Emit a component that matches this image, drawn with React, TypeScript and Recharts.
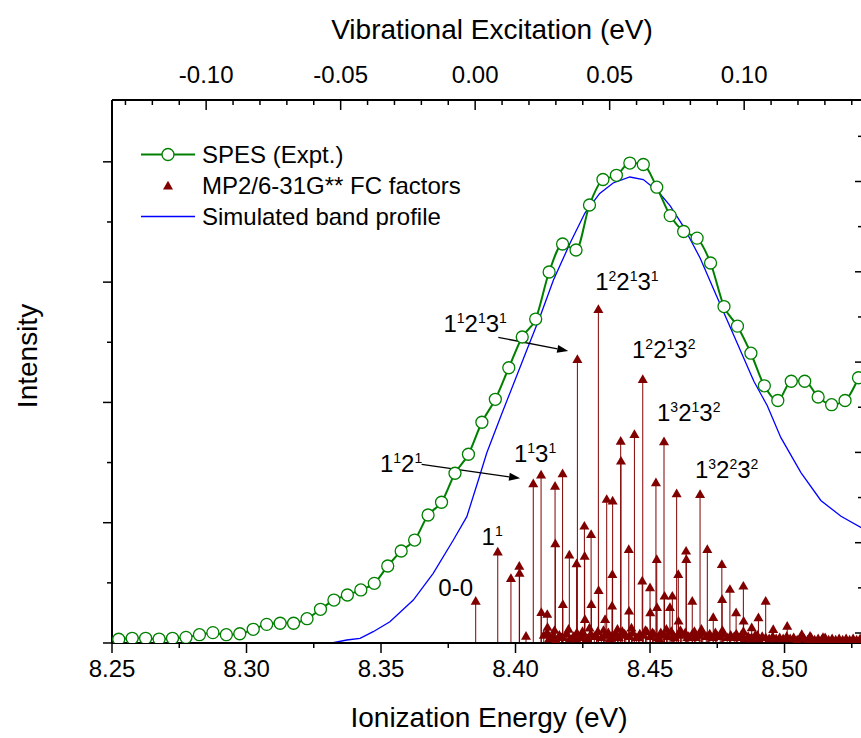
import React from 'react';
import {
  ComposedChart,
  Line,
  Scatter,
  XAxis,
  YAxis,
  ReferenceLine,
  ReferenceDot,
  Legend,
} from 'recharts';

const FONT = 'Arial, "Liberation Sans", Helvetica, sans-serif';
const GREEN = '#008000';
const BLUE = '#0000ff';
const RED = '#800000';

// Zero of the vibrational-excitation scale (the 0-0 band), eV
const ORIGIN_IE = 8.385;
const X_MIN = 8.25;
const X_MAX = 8.5288;
const Y_LEFT = [0, 4.514];
const Y_RIGHT = [-0.1107, 5.9025];

const BOTTOM_TICKS = [8.25, 8.275, 8.3, 8.325, 8.35, 8.375, 8.4, 8.425, 8.45, 8.475, 8.5, 8.525];
const BOTTOM_LABELS = ['8.25', '8.30', '8.35', '8.40', '8.45', '8.50'];
const TOP_TICKS = [
  -0.13, -0.12, -0.11, -0.1, -0.09, -0.08, -0.07, -0.06, -0.05, -0.04, -0.03, -0.02, -0.01, 0,
  0.01, 0.02, 0.03, 0.04, 0.05, 0.06, 0.07, 0.08, 0.09, 0.1, 0.11, 0.12, 0.13, 0.14,
];
const TOP_LABELS = ['-0.10', '-0.05', '0.00', '0.05', '0.10'];
const LEFT_TICKS = [0, 0.5, 1, 1.5, 2, 2.5, 3, 3.5, 4];
const RIGHT_TICKS = [0, 0.5, 1, 1.5, 2, 2.5, 3, 3.5, 4, 4.5, 5, 5.5];

// SPES (experiment)
const SPES_E = [
  8.2525, 8.2575, 8.2625, 8.2675, 8.2725, 8.2775, 8.2825, 8.2875, 8.2925, 8.2975,
  8.3025, 8.3075, 8.3125, 8.3175, 8.3225, 8.3275, 8.3325, 8.3375, 8.3425, 8.3475,
  8.3525, 8.3575, 8.3625, 8.3675, 8.3725, 8.3775, 8.3825, 8.3875, 8.3925, 8.3975,
  8.4025, 8.4075, 8.4125, 8.4175, 8.4225, 8.4275, 8.4325, 8.4375, 8.4425, 8.4475,
  8.4525, 8.4575, 8.4625, 8.4675, 8.4725, 8.4775, 8.4825, 8.4875, 8.4925, 8.4975,
  8.5025, 8.5075, 8.5125, 8.5175, 8.5225, 8.5275,
];
const SPES_I = [
  0.031, 0.039, 0.039, 0.033, 0.039, 0.047, 0.069, 0.086, 0.069, 0.077,
  0.114, 0.155, 0.164, 0.164, 0.202, 0.28, 0.357, 0.399, 0.441, 0.496,
  0.64, 0.765, 0.856, 1.064, 1.17, 1.411, 1.569, 1.835, 2.026, 2.288,
  2.544, 2.693, 3.084, 3.317, 3.267, 3.641, 3.853, 3.888, 3.99, 3.978,
  3.789, 3.553, 3.421, 3.366, 3.159, 2.797, 2.634, 2.409, 2.138, 2.016,
  2.176, 2.176, 2.045, 1.981, 2.016, 2.205,
];

// Simulated band profile
const SIM_E = [
  8.3261, 8.3322, 8.3373, 8.3422, 8.3471, 8.3533, 8.362, 8.3694, 8.3769, 8.3819,
  8.3862, 8.3893, 8.3945, 8.4042, 8.4091, 8.4141, 8.4203, 8.4258, 8.4313, 8.4363,
  8.4425, 8.4475, 8.4531, 8.4575, 8.4625, 8.4687, 8.4749, 8.4812, 8.4886, 8.4936,
  8.4986, 8.5061, 8.5135, 8.521, 8.5288,
];
const SIM_I = [
  0, 0.0025, 0.025, 0.039, 0.094, 0.177, 0.357, 0.579, 0.856, 1.05,
  1.355, 1.579, 1.883, 2.436, 2.712, 3.017, 3.325, 3.574, 3.737, 3.824,
  3.874, 3.853, 3.751, 3.634, 3.46, 3.197, 2.876, 2.555, 2.176, 1.972,
  1.709, 1.417, 1.185, 1.053, 0.956,
];

// MP2/6-31G** Franck-Condon factors (sticks)
const FC_E = [
  8.3852, 8.3934, 8.3983, 8.4014, 8.4015, 8.4039, 8.4066, 8.4095, 8.4096, 8.4118,
  8.4119, 8.4147, 8.4148, 8.4175, 8.4176, 8.42, 8.4227, 8.423, 8.4256, 8.4257,
  8.4258, 8.4281, 8.4282, 8.4308, 8.4309, 8.4333, 8.4339, 8.4361, 8.436, 8.4359,
  8.4391, 8.4392, 8.4421, 8.4422, 8.4442, 8.4473, 8.4471, 8.45, 8.4501, 8.4522,
  8.4525, 8.4526, 8.4552, 8.4554, 8.4583, 8.4574, 8.4599, 8.4605, 8.4606, 8.4634,
  8.4635, 8.4657, 8.4686, 8.4713, 8.4735, 8.4767, 8.4768, 8.4797, 8.482, 8.4847,
  8.4848, 8.4878, 8.4903, 8.493, 8.4958, 8.501, 8.5064, 8.5095, 8.5143,
];
const FC_I = [
  0.343, 0.751, 0.532, 0.634, 0.574, 0.052, 1.319, 1.391, 0.249, 0.233,
  0.125, 1.299, 0.82, 1.402, 0.316, 0.726, 0.654, 2.352, 0.967, 0.717,
  0.191, 0.898, 0.316, 2.768, 0.432, 0.191, 1.189, 1.175, 0.565, 0.302,
  1.673, 1.507, 0.773, 0.26, 1.729, 2.186, 0.51, 0.455, 0.247, 1.328,
  0.69, 0.291, 1.668, 0.385, 0.385, 0.291, 1.236, 0.565, 0.177, 0.759,
  0.69, 0.343, 1.23, 0.773, 0.208, 0.648, 0.357, 0.441, 0.247, 0.468,
  0.177, 0.122, 0.205, 0.343, 0.108, 0.135, 0.066, 0.052, 0.042,
];
// weak FC factors forming the dense band near the baseline
const FC_WEAK_E = [
  8.4105, 8.4118, 8.4125, 8.4138, 8.415, 8.4163, 8.4176, 8.4189, 8.4202, 8.4215, 8.4228, 8.4241,
  8.4254, 8.4267, 8.428, 8.4293, 8.4306, 8.4319, 8.4332, 8.4345, 8.4358, 8.4371,
  8.4384, 8.4397, 8.441, 8.4423, 8.4436, 8.4449, 8.4462, 8.4475, 8.4488, 8.4501,
  8.4514, 8.4527, 8.454, 8.4553, 8.4566, 8.4579, 8.4592, 8.4605, 8.4618, 8.4631,
  8.4644, 8.4657, 8.467, 8.4683, 8.4696, 8.4709, 8.4722, 8.4735, 8.4748, 8.4761,
  8.4774, 8.4787, 8.48, 8.4813, 8.4826, 8.4839, 8.4852, 8.4865, 8.4878, 8.4891,
  8.4904, 8.4917, 8.493, 8.4943, 8.4956, 8.4969, 8.4982, 8.4995, 8.5008, 8.5021,
  8.5034, 8.5047, 8.506, 8.5073, 8.5086, 8.5099, 8.5112, 8.5125, 8.5138, 8.5151,
  8.5164, 8.5177, 8.519, 8.5203, 8.5216, 8.5229, 8.5242, 8.5255, 8.5268, 8.5281,
];
const FC_WEAK_I = [
  0.06, 0.08, 0.03, 0.05, 0.02, 0.06, 0.04, 0.07, 0.03, 0.05, 0.08, 0.04,
  0.06, 0.03, 0.07, 0.05, 0.09, 0.04, 0.06, 0.08, 0.05, 0.07,
  0.04, 0.09, 0.06, 0.05, 0.08, 0.04, 0.07, 0.06, 0.09, 0.05,
  0.07, 0.04, 0.08, 0.06, 0.05, 0.09, 0.04, 0.07, 0.06, 0.08,
  0.05, 0.07, 0.04, 0.06, 0.08, 0.05, 0.07, 0.04, 0.06, 0.05,
  0.07, 0.04, 0.06, 0.05, 0.04, 0.06, 0.03, 0.05, 0.04, 0.06,
  0.03, 0.05, 0.04, 0.03, 0.05, 0.03, 0.04, 0.03, 0.05, 0.03,
  0.04, 0.02, 0.04, 0.03, 0.02, 0.04, 0.02, 0.03, 0.02, 0.04,
  0.02, 0.03, 0.02, 0.03, 0.02, 0.03, 0.02, 0.03, 0.02, 0.03,
];
// secondary layer of weak factors in the densest region
const FC_WEAK2_E = [
  8.4145, 8.4171, 8.4197, 8.4223, 8.4249, 8.4275, 8.4301, 8.4327, 8.4353, 8.4379,
  8.4405, 8.4431, 8.4457, 8.4483, 8.4509, 8.4535, 8.4561, 8.4587, 8.4613, 8.4639,
  8.4665, 8.4691, 8.4717, 8.4743, 8.4769, 8.4795, 8.4821, 8.4847, 8.4873, 8.4899,
];
const FC_WEAK2_I = [
  0.1, 0.04, 0.11, 0.03, 0.09, 0.12, 0.05, 0.1, 0.03, 0.11,
  0.07, 0.12, 0.04, 0.1, 0.08, 0.03, 0.11, 0.06, 0.1, 0.04,
  0.09, 0.11, 0.05, 0.08, 0.1, 0.04, 0.07, 0.09, 0.03, 0.06,
];

// Band assignments
const NOTE_TEXT = ['0-0', '1^1', '1^1 2^1', '1^1 3^1', '1^1 2^1 3^1', '1^2 2^1 3^1', '1^2 2^1 3^2', '1^3 2^1 3^2', '1^3 2^2 3^2'];
const NOTE_E = [8.3713, 8.3874, 8.3496, 8.3994, 8.3732, 8.4296, 8.4433, 8.4526, 8.4667];
const NOTE_I = [0.393, 0.815, 1.424, 1.507, 2.588, 2.934, 2.369, 1.845, 1.374];

// Arrows (tail -> head)
const ARROW_FROM_E = [8.3936, 8.3651];
const ARROW_FROM_I = [2.541, 1.485];
const ARROW_TO_E = [8.4196, 8.4017];
const ARROW_TO_I = [2.427, 1.369];

const LEGEND_LABELS = ['SPES (Expt.)', 'MP2/6-31G** FC factors', 'Simulated band profile'];

const spesData = SPES_E.map((e, k) => ({ e, i: SPES_I[k] }));
const simData = SIM_E.map((e, k) => ({ e, i: SIM_I[k] }));
const fcData = FC_WEAK_E.map((e, k) => ({ e, i: FC_WEAK_I[k] }))
  .concat(FC_WEAK2_E.map((e, k) => ({ e, i: FC_WEAK2_I[k] })))
  .concat(FC_E.map((e, k) => ({ e, i: FC_I[k] })));
// binds the top axis to the same energy range
const topRange = [
  { v: X_MIN - ORIGIN_IE, i: 0 },
  { v: X_MAX - ORIGIN_IE, i: 0 },
];

const triPath = (cx: number, cy: number) => {
  const h = 2.9;
  return `M${cx},${cy - 2 * h} L${cx + 1.732 * h},${cy + h} L${cx - 1.732 * h},${cy + h} Z`;
};

const BottomTick = (props: any) => {
  const { x, y, payload } = props;
  const label = Number(payload.value).toFixed(2);
  const major = BOTTOM_LABELS.includes(label);
  return (
    <g>
      <line x1={x} y1={y} x2={x} y2={y + (major ? 10 : 5)} stroke="#000" strokeWidth={1.5} />
      {major && (
        <text x={x} y={y + 34} textAnchor="middle" fontSize={24} fontFamily={FONT} fill="#000">
          {label}
        </text>
      )}
    </g>
  );
};

const TopTick = (props: any) => {
  const { x, y, payload } = props;
  const v = Number(payload.value);
  const label = (Math.abs(v) < 1e-9 ? 0 : v).toFixed(2);
  const major = TOP_LABELS.includes(label);
  return (
    <g>
      <line x1={x} y1={y} x2={x} y2={y + (major ? 10 : 5)} stroke="#000" strokeWidth={1.5} />
      {major && (
        <text x={x} y={y - 17} textAnchor="middle" fontSize={24} fontFamily={FONT} fill="#000">
          {label}
        </text>
      )}
    </g>
  );
};

const LeftTick = (props: any) => {
  const { x, y, payload } = props;
  const major = Number.isInteger(Number(payload.value));
  return <line x1={x} y1={y} x2={x - (major ? 9 : 5)} y2={y} stroke="#000" strokeWidth={1.5} />;
};

const RightTick = (props: any) => {
  const { x, y, payload } = props;
  const major = Number.isInteger(Number(payload.value));
  return <line x1={x} y1={y} x2={x - (major ? 7 : 4)} y2={y} stroke="#000" strokeWidth={1.5} />;
};

const Notation = ({ cx, cy, text }: { cx: number; cy: number; text: string }) => {
  const parts = text.split(' ');
  const spans: React.ReactNode[] = [];
  let raised = false;
  parts.forEach((p, k) => {
    const [base, sup] = p.split('^');
    spans.push(
      <tspan key={k + 'b'} fontSize={24} dy={raised ? 9 : 0}>
        {base}
      </tspan>
    );
    raised = false;
    if (sup) {
      spans.push(
        <tspan key={k + 's'} fontSize={14} dy={-9}>
          {sup}
        </tspan>
      );
      raised = true;
    }
  });
  return (
    <text x={cx} y={cy} fontFamily={FONT} fill="#000">
      {spans}
    </text>
  );
};

const Arrow = (props: any) => {
  const { x1, y1, x2, y2 } = props;
  const dx = x2 - x1;
  const dy = y2 - y1;
  const len = Math.sqrt(dx * dx + dy * dy) || 1;
  const ux = dx / len;
  const uy = dy / len;
  const hl = 11;
  const hw = 4;
  const bx = x2 - ux * hl;
  const by = y2 - uy * hl;
  return (
    <g>
      <line x1={x1} y1={y1} x2={bx} y2={by} stroke="#000" strokeWidth={1.3} />
      <path
        d={`M${x2},${y2} L${bx - uy * hw},${by + ux * hw} L${bx + uy * hw},${by - ux * hw} Z`}
        fill="#000"
      />
    </g>
  );
};

const LegendContent = () => (
  <div style={{ fontFamily: FONT, fontSize: 24, color: '#000' }}>
    {LEGEND_LABELS.map((lab, k) => (
      <div key={lab} style={{ display: 'flex', alignItems: 'center', height: 31, whiteSpace: 'nowrap' }}>
        <svg width={66} height={31} style={{ display: 'block' }}>
          {k === 0 && (
            <g>
              <line x1={5} y1={15.5} x2={59} y2={15.5} stroke={GREEN} strokeWidth={2} />
              <circle cx={32} cy={15.5} r={6} fill="#fff" stroke={GREEN} strokeWidth={1.3} />
            </g>
          )}
          {k === 1 && <path d={triPath(32, 16.5)} fill={RED} />}
          {k === 2 && <line x1={5} y1={15.5} x2={59} y2={15.5} stroke={BLUE} strokeWidth={1.3} />}
        </svg>
        <span style={{ lineHeight: '31px' }}>{lab}</span>
      </div>
    ))}
  </div>
);

export default function App() {
  return (
    <div
      style={{
        position: 'absolute',
        left: 0,
        top: 0,
        width: 861,
        height: 738,
        overflow: 'hidden',
        background: '#fff',
      }}
    >
      <ComposedChart width={870} height={738} margin={{ top: 0, right: 0, bottom: 0, left: 0 }}>
        <XAxis
          xAxisId="bottom"
          dataKey="e"
          type="number"
          orientation="bottom"
          domain={[X_MIN, X_MAX]}
          allowDataOverflow
          ticks={BOTTOM_TICKS}
          interval={0}
          tickSize={0}
          tickMargin={0}
          tickLine={false}
          tick={(p: any) => <BottomTick {...p} />}
          axisLine={{ stroke: '#000', strokeWidth: 2 }}
          height={95}
        />
        <XAxis
          xAxisId="top"
          dataKey="v"
          type="number"
          orientation="top"
          domain={[X_MIN - ORIGIN_IE, X_MAX - ORIGIN_IE]}
          allowDataOverflow
          ticks={TOP_TICKS}
          interval={0}
          tickSize={0}
          tickMargin={0}
          tickLine={false}
          tick={(p: any) => <TopTick {...p} />}
          axisLine={{ stroke: '#000', strokeWidth: 2 }}
          height={100}
        />
        <YAxis
          yAxisId="left"
          type="number"
          domain={Y_LEFT}
          allowDataOverflow
          ticks={LEFT_TICKS}
          interval={0}
          tickSize={0}
          tickMargin={0}
          tickLine={false}
          tick={(p: any) => <LeftTick {...p} />}
          axisLine={{ stroke: '#000', strokeWidth: 2 }}
          width={112}
          label={{
            content: () => (
              <text
                x={27}
                y={356}
                transform="rotate(-90, 27, 356)"
                textAnchor="middle"
                dominantBaseline="central"
                fontSize={28}
                fontFamily={FONT}
                fill="#000"
              >
                Intensity
              </text>
            ),
          }}
        />
        <YAxis
          yAxisId="right"
          orientation="right"
          type="number"
          domain={Y_RIGHT}
          allowDataOverflow
          ticks={RIGHT_TICKS}
          interval={0}
          tickSize={0}
          tickMargin={0}
          tickLine={false}
          tick={(p: any) => <RightTick {...p} />}
          axisLine={{ stroke: '#000', strokeWidth: 2 }}
          width={8}
        />

        <Line
          data={topRange}
          xAxisId="top"
          yAxisId="left"
          dataKey="i"
          stroke="none"
          dot={false}
          legendType="none"
          isAnimationActive={false}
        />

        {fcData.map((d, k) => (
          <ReferenceLine
            key={'fc' + k}
            xAxisId="bottom"
            yAxisId="left"
            segment={[
              { x: d.e, y: 0 },
              { x: d.e, y: d.i },
            ]}
            stroke={RED}
            strokeWidth={1}
            ifOverflow="visible"
          />
        ))}

        <Scatter
          name="MP2/6-31G** FC factors"
          data={fcData}
          xAxisId="bottom"
          yAxisId="left"
          dataKey="i"
          isAnimationActive={false}
          shape={(p: any) => <path d={triPath(p.cx, p.cy)} fill={RED} />}
        />

        <Line
          name="Simulated band profile"
          data={simData}
          xAxisId="bottom"
          yAxisId="left"
          dataKey="i"
          type="linear"
          stroke={BLUE}
          strokeWidth={1.3}
          dot={false}
          isAnimationActive={false}
        />

        <Line
          name="SPES (Expt.)"
          data={spesData}
          xAxisId="bottom"
          yAxisId="left"
          dataKey="i"
          type="monotone"
          stroke={GREEN}
          strokeWidth={2}
          dot={(p: any) => (
            <circle key={'c' + p.index} cx={p.cx} cy={p.cy} r={6} fill="#fff" stroke={GREEN} strokeWidth={1.3} />
          )}
          isAnimationActive={false}
        />

        {ARROW_FROM_E.map((e, k) => (
          <ReferenceLine
            key={'ar' + k}
            xAxisId="bottom"
            yAxisId="left"
            segment={[
              { x: e, y: ARROW_FROM_I[k] },
              { x: ARROW_TO_E[k], y: ARROW_TO_I[k] },
            ]}
            ifOverflow="visible"
            shape={(p: any) => <Arrow {...p} />}
          />
        ))}

        {NOTE_TEXT.map((t, k) => (
          <ReferenceDot
            key={'nt' + k}
            xAxisId="bottom"
            yAxisId="left"
            x={NOTE_E[k]}
            y={NOTE_I[k]}
            r={0}
            ifOverflow="visible"
            shape={(p: any) => <Notation cx={p.cx} cy={p.cy} text={t} />}
          />
        ))}

        <Legend
          layout="vertical"
          align="center"
          verticalAlign="middle"
          content={() => <LegendContent />}
          wrapperStyle={{ left: 136, top: 139, width: 420, height: 95 }}
        />
      </ComposedChart>
      <div
        style={{
          position: 'absolute',
          left: 0,
          top: 12,
          width: 984,
          textAlign: 'center',
          fontFamily: FONT,
          fontSize: 28,
          lineHeight: '36px',
          color: '#000',
          pointerEvents: 'none',
        }}
      >
        Vibrational Excitation (eV)
      </div>
      <div
        style={{
          position: 'absolute',
          left: 0,
          top: 700,
          width: 978,
          textAlign: 'center',
          fontFamily: FONT,
          fontSize: 28,
          lineHeight: '36px',
          color: '#000',
          pointerEvents: 'none',
        }}
      >
        Ionization Energy (eV)
      </div>
    </div>
  );
}
